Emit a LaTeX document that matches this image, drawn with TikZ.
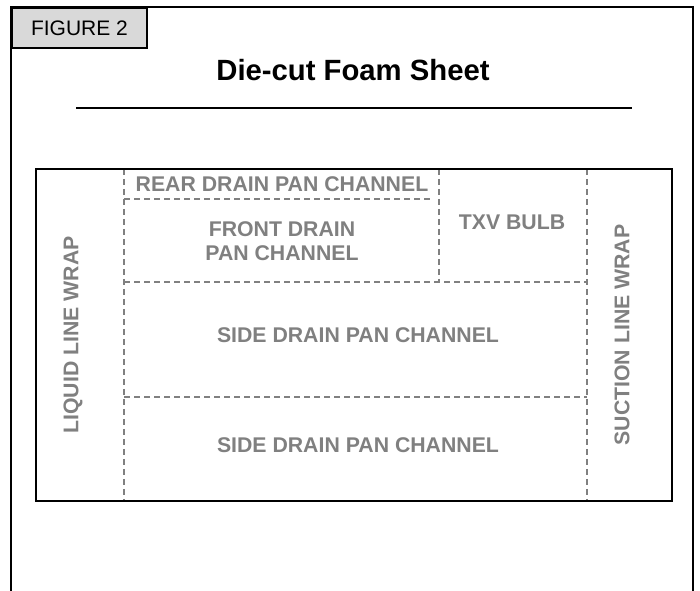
\documentclass[tikz,border=0pt]{standalone}
\usepackage{fontspec}
\setmainfont{Liberation Sans}
\usetikzlibrary{positioning}
\definecolor{labelgray}{HTML}{808080}
\definecolor{tabgray}{HTML}{D9D9D9}
\begin{document}
\begin{tikzpicture}[x=0.75pt,y=-0.75pt,frame/.style={draw=black,line width=1.9pt},sheet/.style={draw=black,line width=1.6pt},cut/.style={draw=labelgray,dash pattern=on 4.5pt off 3pt,line width=0.8pt},lbl/.style={text=labelgray,font=\bfseries\fontsize{15.95}{18}\selectfont,align=center,inner sep=0pt}]
\useasboundingbox (0,0) rectangle (700,591);
\draw[frame] (11,591)--(11,7)--(693,7)--(693,591);
\node[draw=black,line width=1.5pt,fill=tabgray,anchor=north west,minimum width=101.25pt,minimum height=30pt,font=\fontsize{15.75}{18}\selectfont] (fig) at (11,7) {FIGURE 2};
\node[font=\bfseries\fontsize{21.95}{25}\selectfont] (title) at (353,70) {Die-cut Foam Sheet};
\draw[line width=1.5pt] (76,108)--(632,108);
% die-cut lines
\draw[cut] (124,169)--(124,501); \draw[cut] (587,169)--(587,501);
\draw[cut] (124,199)--(430,199); \draw[cut] (439,169)--(439,282);
\draw[cut] (124,282)--(587,282); \draw[cut] (124,397)--(587,397);
\draw[sheet] (36,169) rectangle (672,501);
\node[lbl] (rear) at (282,184) {REAR DRAIN PAN CHANNEL};
\node[lbl] (front) at (282,241) {FRONT DRAIN\\PAN CHANNEL};
\node[lbl] (txv) at (512,222) {TXV BULB};
\node[lbl] (side1) at (358,335) {SIDE DRAIN PAN CHANNEL};
\node[lbl] (side2) at (358,445) {SIDE DRAIN PAN CHANNEL};
\node[lbl,rotate=90] (liquid) at (73,335) {LIQUID LINE WRAP};
\node[lbl,rotate=90] (suction) at (622,335) {SUCTION LINE WRAP};
\end{tikzpicture}
\end{document}
